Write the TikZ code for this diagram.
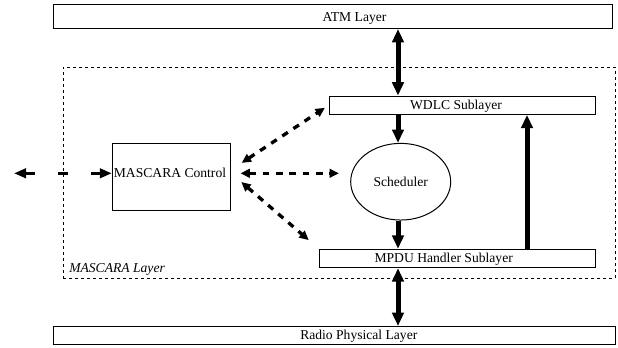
\documentclass[tikz,border=0pt]{standalone}
\usepackage{fontspec}
\setmainfont{Liberation Serif}
\usetikzlibrary{arrows.meta,shapes.geometric,calc}
\begin{document}
\begin{tikzpicture}[x=0.75pt,y=-0.75pt,
  every node/.style={font=\fontsize{10.2}{12}\selectfont},
  box/.style={draw=black, line width=0.75pt, rectangle, inner sep=0pt},
  lbl/.style={inner sep=0pt},
  bigarrow/.style={line width=3.75pt, -{Triangle[length=10pt,width=8.5pt]}},
  bigdouble/.style={line width=3.75pt, {Triangle[length=10pt,width=8.5pt]}-{Triangle[length=10pt,width=8.5pt]}},
  darrow/.style={line width=2.5pt, dash pattern=on 5pt off 5pt, {Triangle[length=7pt,width=6.5pt]}-{Triangle[length=7pt,width=6.5pt]}},
  extarrow/.style={line width=2.5pt, dash pattern=on 7.5pt off 17.25pt, {Triangle[length=9pt,width=7pt]}-{Triangle[length=9pt,width=7pt]}},
  layerbox/.style={draw, line width=0.75pt, dash pattern=on 2pt off 2.5pt, rectangle, inner sep=0pt}
]
\useasboundingbox (0,0) rectangle (618,347);

\node[layerbox, minimum width=413.8pt, minimum height=158.5pt] (mlayer) at (339.2,172.7) {};
\node[lbl, anchor=west, font=\fontsize{10.2}{12}\selectfont\itshape] (mlayertxt) at (69,269) {MASCARA Layer};

\node[box, minimum width=419.6pt, minimum height=18pt] (atm) at (333,16.5) {};
\node[lbl] (atmtxt) at (354.5,18) {ATM Layer};
\node[box, minimum width=199.8pt, minimum height=13.7pt] (wdlc) at (462.5,105.2) {};
\node[lbl] (wdlctxt) at (456,106) {WDLC Sublayer};
\node[box, minimum width=206.8pt, minimum height=13.8pt] (mpdu) at (457.2,258.5) {};
\node[lbl] (mpdutxt) at (443.7,259.2) {MPDU Handler Sublayer};
\node[box, minimum width=421.3pt, minimum height=13.5pt] (radio) at (334.2,335.5) {};
\node[lbl] (radiotxt) at (358.8,336.5) {Radio Physical Layer};
\node[box, minimum width=88.8pt, minimum height=50pt] (ctrl) at (171.5,177.3) {};
\node[lbl] (ctrltxt) at (170,173.3) {MASCARA Control};
\node[draw, ellipse, line width=0.75pt, inner sep=0pt, minimum width=75pt, minimum height=57.5pt] (sched) at (400.7,181.7) {Scheduler};

\coordinate (ax) at (398,0);
\coordinate (rx) at (527,0);
\coordinate (ext) at (14,0);

\draw[bigdouble] (ax |- atm.south) -- (ax |- wdlc.north);
\draw[bigarrow] (ax |- wdlc.south) -- (ax |- sched.north);
\draw[bigarrow] (ax |- sched.south) -- (ax |- mpdu.north);
\draw[bigdouble] (ax |- mpdu.south) -- (ax |- radio.north);
\draw[bigarrow] (rx |- mpdu.north) -- (rx |- wdlc.south);

\draw[extarrow] (ext |- ctrltxt) -- (ctrltxt -| ctrl.west);
\draw[darrow, shorten <=9.4pt, shorten >=3.5pt] ($(ctrltxt -| ctrl.east)+(0,-3.5)$) -- (wdlc.west);
\draw[darrow, shorten <=7pt, shorten >=8.5pt] (ctrltxt -| ctrl.east) -- (ctrltxt -| sched.west);
\draw[darrow, shorten <=10pt, shorten >=10pt] (ctrltxt -| ctrl.east) -- (mpdu.north west);
\end{tikzpicture}
\end{document}
